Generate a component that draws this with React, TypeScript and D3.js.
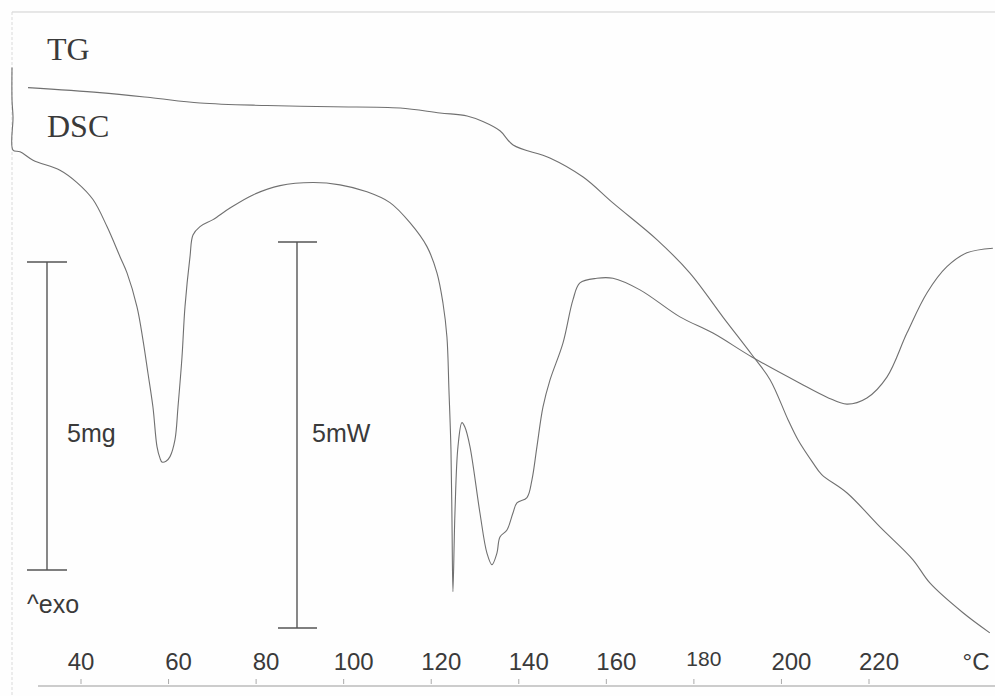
import React from "react";
import * as d3 from "d3";

// Thermogravimetric trace: temperature (°C) and sample mass (mg)
const TG_TEMP = [
  27.9, 44.3, 55.8, 67.2, 82.5, 97.6, 112.9, 122.0, 128.2, 131.8, 135.7, 138.7,
  147.1, 154.7, 161.5, 171.6, 179.1, 186.6, 193.3, 197.4, 201.5, 203.8, 207.2,
  209.2, 215.0, 222.5, 230.0, 233.9, 241.4, 247.6,
];
const TG_MASS = [
  9.83, 9.75, 9.67, 9.58, 9.54, 9.52, 9.5, 9.42, 9.37, 9.28, 9.13, 8.9, 8.69,
  8.38, 7.96, 7.36, 6.82, 6.11, 5.49, 5.09, 4.44, 4.11, 3.74, 3.55, 3.25, 2.7,
  2.17, 1.79, 1.31, 0.98,
];

// DSC trace: temperature (°C) and heat flow (mW, exo up)
const DSC_TEMP = [
  24.24, 24.24, 24.47, 24.47, 26.07, 29.04, 35.2, 39.09, 42.74, 45.94, 48.91,
  50.51, 52.79, 54.16, 55.3, 56.44, 57.36, 58.04, 58.5, 59.41, 60.33, 61.47,
  62.15, 63.07, 63.75, 64.9, 65.58, 67.18, 70.15, 74.03, 79.28, 85.45, 92.99,
  99.16, 105.32, 110.58, 115.14, 119.03, 121.31, 122.68, 123.59, 124.05, 124.51,
  124.74, 124.96, 125.42, 126.11, 127.02, 127.71, 128.85, 131.13, 132.73,
  133.87, 135.01, 135.7, 137.3, 138.67, 139.58, 141.87, 143.01, 144.15, 145.52,
  147.12, 150.09, 152.37, 153.97, 157.85, 161.51, 167.68, 176.81, 184.35,
  193.26, 204.22, 210.39, 214.96, 219.52, 224.09, 228.66, 233.23, 237.79,
  242.36, 248.3,
];
const DSC_HEAT = [
  7.26, 6.84, 6.62, 6.19, 6.17, 6.06, 5.93, 5.77, 5.55, 5.2, 4.81, 4.6, 4.16,
  3.73, 3.3, 2.86, 2.35, 2.2, 2.15, 2.16, 2.22, 2.44, 2.86, 3.51, 4.16, 4.81,
  5.09, 5.2, 5.29, 5.44, 5.61, 5.73, 5.77, 5.74, 5.65, 5.51, 5.25, 4.94, 4.6,
  4.21, 3.77, 3.08, 2.31, 1.4, 0.47, 1.49, 2.35, 2.66, 2.6, 2.35, 1.49, 0.97,
  0.82, 0.97, 1.18, 1.27, 1.49, 1.62, 1.69, 1.92, 2.35, 2.86, 3.21, 3.69, 4.25,
  4.47, 4.53, 4.53, 4.38, 4.03, 3.82, 3.51, 3.17, 2.99, 2.9, 2.98, 3.25, 3.82,
  4.34, 4.68, 4.86, 4.92,
];

const X_TICKS = [40, 60, 80, 100, 120, 140, 160, 180, 200, 220];

// Scale bars: 5 mg for the TG trace and 5 mW for the DSC trace
const MASS_BAR = [2, 7];
const HEAT_BAR = [0, 5];

const W = 995;
const H = 696;

export default function App() {
  const x = d3.scaleLinear().domain([40, 220]).range([81, 869]);
  const yMass = d3.scaleLinear().domain([2, 7]).range([570, 262]);
  const yHeat = d3.scaleLinear().domain([0, 5]).range([628, 242]);

  const tgPts: [number, number][] = TG_TEMP.map((t, i) => [x(t), yMass(TG_MASS[i])]);
  const dscPts: [number, number][] = DSC_TEMP.map((t, i) => [x(t), yHeat(DSC_HEAT[i])]);

  const line = d3.line().curve(d3.curveCatmullRom.alpha(0.5));

  const axisY = 686;
  const lineColor = "#707070";
  const textColor = "#3a3a3a";
  const sans = "Liberation Sans, Arial, sans-serif";
  const serif = "Liberation Serif, Times New Roman, serif";

  const massBarX = 47;
  const heatBarX = 297;

  return (
    <svg
      width={W}
      height={H}
      style={{ position: "absolute", left: 0, top: 0, background: "#fefefe" }}
    >
      {/* frame */}
      <line x1={12} y1={12} x2={W} y2={12} stroke="#cfcfcf" strokeWidth={1} />
      <line x1={12} y1={12} x2={12} y2={H} stroke="#dadada" strokeWidth={1} strokeDasharray="3 2" />

      {/* temperature axis */}
      <line x1={38} y1={axisY} x2={W} y2={axisY} stroke="#9a9a9a" strokeWidth={1.2} />
      {X_TICKS.map((t) => (
        <g key={t}>
          <line x1={x(t)} y1={679} x2={x(t)} y2={684} stroke="#aaa" strokeWidth={1} />
          <text
            x={x(t) + (t === 40 ? 0 : 10)}
            y={t === 180 ? 666 : 670}
            textAnchor="middle"
            fontFamily={sans}
            fontSize={t === 180 ? 21 : 24}
            fill={textColor}
          >
            {t}
          </text>
        </g>
      ))}
      <text x={976} y={670} textAnchor="middle" fontFamily={sans} fontSize={24} fill={textColor}>
        °C
      </text>

      {/* scale bars */}
      <g stroke="#555" strokeWidth={1.4}>
        <line x1={massBarX} y1={yMass(MASS_BAR[0])} x2={massBarX} y2={yMass(MASS_BAR[1])} />
        <line x1={massBarX - 20} y1={yMass(MASS_BAR[0])} x2={massBarX + 20} y2={yMass(MASS_BAR[0])} />
        <line x1={massBarX - 20} y1={yMass(MASS_BAR[1])} x2={massBarX + 20} y2={yMass(MASS_BAR[1])} />
        <line x1={heatBarX} y1={yHeat(HEAT_BAR[0])} x2={heatBarX} y2={yHeat(HEAT_BAR[1])} />
        <line x1={heatBarX - 19} y1={yHeat(HEAT_BAR[0])} x2={heatBarX + 20} y2={yHeat(HEAT_BAR[0])} />
        <line x1={heatBarX - 19} y1={yHeat(HEAT_BAR[1])} x2={heatBarX + 20} y2={yHeat(HEAT_BAR[1])} />
      </g>
      <text x={67} y={442} fontFamily={sans} fontSize={25} fill={textColor}>
        5mg
      </text>
      <text x={312} y={442} fontFamily={sans} fontSize={25} fill={textColor}>
        5mW
      </text>
      <text x={27} y={613} fontFamily={sans} fontSize={25} fill={textColor}>
        ^exo
      </text>

      {/* trace labels */}
      <text x={47} y={60} fontFamily={serif} fontSize={32} fill={textColor}>
        TG
      </text>
      <text x={47} y={137} fontFamily={serif} fontSize={32} fill={textColor}>
        DSC
      </text>

      {/* traces */}
      <path d={line(tgPts) ?? ""} fill="none" stroke={lineColor} strokeWidth={1.1} />
      <path d={line(dscPts) ?? ""} fill="none" stroke={lineColor} strokeWidth={1.1} />
    </svg>
  );
}
